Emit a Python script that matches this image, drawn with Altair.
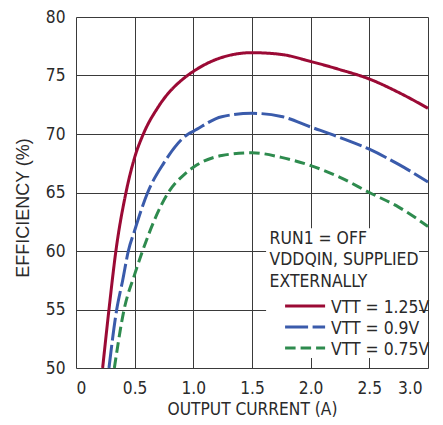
import altair as alt
import pandas as pd

# ---------------- data ----------------
series_names = ["VTT = 1.25V", "VTT = 0.9V", "VTT = 0.75V"]
series_colors = ["#9b0a35", "#3a5bab", "#2e8b4e"]

red_x = [0.227, 0.281, 0.34, 0.426, 0.5, 0.574, 0.70, 0.95, 1.0, 1.242, 1.5, 1.75, 2.0, 2.25, 2.5, 2.75, 3.0]
red_y = [50.0, 55.0, 60.0, 65.0, 68.0, 70.0, 72.3, 75.0, 75.35, 76.54, 76.95, 76.8, 76.2, 75.5, 74.7, 73.55, 72.2]

blue_x = [0.281, 0.347, 0.398, 0.446, 0.5, 0.611, 0.744, 0.957, 1.0, 1.242, 1.5, 1.75, 2.0, 2.25, 2.5, 2.75, 3.0]
blue_y = [50.0, 55.0, 57.5, 60.0, 61.76, 65.0, 67.45, 70.0, 70.23, 71.48, 71.77, 71.5, 70.6, 69.7, 68.7, 67.4, 65.9]

green_x = [0.327, 0.41, 0.5, 0.567, 0.787, 0.929, 1.0, 1.242, 1.5, 1.75, 2.0, 2.25, 2.5, 2.75, 3.0]
green_y = [50.0, 55.0, 58.0, 60.0, 65.0, 66.6, 67.16, 68.16, 68.4, 68.0, 67.3, 66.3, 65.0, 63.75, 62.1]

note_lines = ["RUN1 = OFF", "VDDQIN, SUPPLIED", "EXTERNALLY"]

x_ticks = [0, 0.5, 1.0, 1.5, 2.0, 2.5, 3.0]
y_ticks = [50, 55, 60, 65, 70, 75, 80]

# ---------------- layout constants (data coordinates) ----------------
note_x = 1.65
note_y = [60.63, 58.78, 56.95]
leg_x0, leg_x1 = 1.782, 2.123
leg_label_x = 2.174
leg_line_y = [55.29, 53.5, 51.7]
leg_label_y = [54.71, 52.94, 51.15]
box = dict(x=1.62, x2=2.924, y=50.85, y2=61.94)

NARROW = "DejaVu Sans Condensed, Liberation Sans Narrow, sans-serif"
REGULAR = "Liberation Sans, Arial, sans-serif"
TEXT = "#2a2a2a"

rows = []
for name, xs, ys in zip(series_names, [red_x, blue_x, green_x], [red_y, blue_y, green_y]):
    for xv, yv in zip(xs, ys):
        rows.append({"series": name, "x": xv, "y": yv})
curves = pd.DataFrame(rows)

leg_rows = []
for name, ly in zip(series_names, leg_line_y):
    leg_rows.append({"series": name, "x": leg_x0, "y": ly})
    leg_rows.append({"series": name, "x": leg_x1, "y": ly})
leg_lines = pd.DataFrame(leg_rows)
leg_labels = pd.DataFrame({"series": series_names, "x": [leg_label_x] * 3, "y": leg_label_y})
notes = pd.DataFrame({"text": note_lines, "x": [note_x] * 3, "y": note_y})
box_df = pd.DataFrame([box])

xscale = alt.Scale(domain=[0, 3.0], nice=False, zero=False)
yscale = alt.Scale(domain=[50, 80], nice=False, zero=False)

color = alt.Color("series:N", scale=alt.Scale(domain=series_names, range=series_colors), legend=None)
dash = alt.StrokeDash("series:N",
                      scale=alt.Scale(domain=series_names, range=[[1, 0], [23, 4.5], [10.5, 5]]),
                      legend=None)

x_enc = alt.X("x:Q", scale=xscale,
              axis=alt.Axis(values=x_ticks, title="OUTPUT CURRENT (A)", grid=True, ticks=False,
                            domain=False, labelFont=NARROW, labelFontSize=17.2, labelColor=TEXT,
                            labelBaseline="alphabetic", labelPadding=25,
                            labelOffset={"condition": {"test": "datum.value == 3", "value": -6}, "value": 0},
                            labelExpr="datum.value == 0 ? '0' : format(datum.value, '.1f')",
                            titleFont=NARROW, titleFontSize=17.2, titleFontWeight="normal",
                            titleColor=TEXT, titleBaseline="alphabetic", titleY=46,
                            gridColor="#3a3a3a", gridWidth=1, gridOpacity=1))
y_enc = alt.Y("y:Q", scale=yscale,
              axis=alt.Axis(values=y_ticks, title="EFFICIENCY (%)", grid=True, ticks=False,
                            domain=False, labelFont=NARROW, labelFontSize=17.2, labelColor=TEXT,
                            labelPadding=11,
                            titleFont=REGULAR, titleFontSize=18, titleFontWeight="normal",
                            titleColor=TEXT, titleX=-52.5, titleY=190.5, titleAngle=270,
                            titleBaseline="middle", titleAlign="center",
                            gridColor="#3a3a3a", gridWidth=1, gridOpacity=1))

base_lines = alt.Chart(curves).mark_line(strokeWidth=3, interpolate="monotone").encode(
    x=x_enc, y=y_enc, color=color, strokeDash=dash)

rect = alt.Chart(box_df).mark_rect(color="white", opacity=1).encode(
    x="x:Q", x2="x2:Q", y="y:Q", y2="y2:Q")

note_text = alt.Chart(notes).mark_text(align="left", baseline="alphabetic", font=NARROW,
                                       fontSize=17.4, color=TEXT).encode(
    x="x:Q", y="y:Q", text="text:N")

legend_lines = alt.Chart(leg_lines).mark_line(strokeWidth=3).encode(
    x="x:Q", y="y:Q", color=color, strokeDash=dash, detail="series:N")

legend_text = alt.Chart(leg_labels).mark_text(align="left", baseline="alphabetic", font=NARROW,
                                              fontSize=17.4, color=TEXT).encode(
    x="x:Q", y="y:Q", text="series:N")

chart = alt.layer(rect, base_lines, note_text, legend_lines, legend_text).properties(
    width=352, height=351,
    autosize=alt.AutoSizeParams(type="none"),
    padding={"left": 68, "top": 9, "right": 7, "bottom": 49},
).configure_view(stroke="#222222", strokeWidth=1.5).configure(background="white")

chart.save("out.html", embed_options={"renderer": "svg", "actions": False})
